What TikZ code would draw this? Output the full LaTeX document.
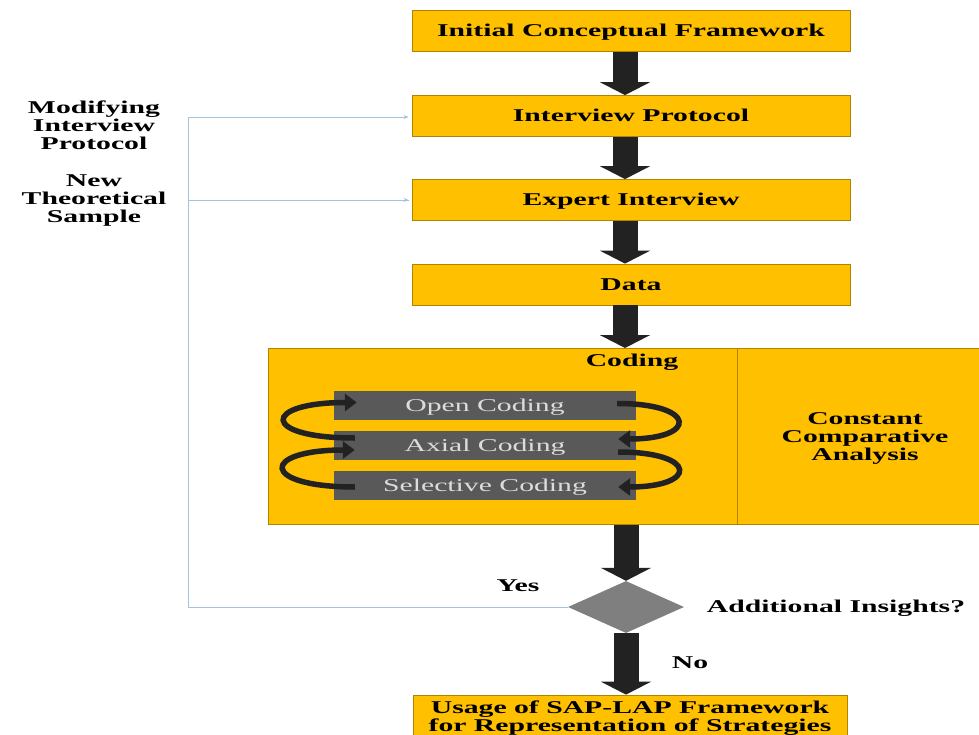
\documentclass[tikz,border=0pt]{standalone}
\usepackage{fontspec}
\setmainfont{Liberation Serif}[FakeStretch=1.65]
\usetikzlibrary{arrows.meta,shapes.geometric}
\definecolor{gold}{HTML}{FFC000}
\definecolor{goldline}{HTML}{B08400}
\definecolor{bar}{HTML}{595959}
\definecolor{bartext}{HTML}{DCDCDC}
\definecolor{dkarrow}{HTML}{222222}
\definecolor{fbline}{HTML}{A4C2DC}
\definecolor{diam}{HTML}{7F7F7F}
\begin{document}
\begin{tikzpicture}[x=1pt,y=-1pt,
  every node/.style={font=\fontsize{18}{18}\selectfont\bfseries, inner sep=0pt},
  fbox/.style={draw=goldline, line width=0.8pt, fill=gold, minimum width=438pt, minimum height=41pt,
    text height=12pt, text depth=0pt},
  panel/.style={draw=goldline, line width=0.8pt, fill=gold, anchor=north west},
  barbox/.style={fill=bar, minimum width=302pt, minimum height=29pt, text=bartext,
    text height=12pt, text depth=0pt, font=\fontsize{18}{18}\selectfont\mdseries},
  lbl/.style={align=center},
  blockarrow/.style={draw=dkarrow, line width=25pt, -{Triangle[width=50pt,length=13pt]}},
  loopar/.style={draw=dkarrow, line width=5.5pt, -{Triangle[width=17pt,length=12pt]}},
  fb/.style={draw=fbline, line width=0.9pt, -{Stealth[length=5pt,width=4pt]}}
]
\useasboundingbox (0,0) rectangle (979,735);

% main column of steps
\node[fbox] (b1) at (631,31) {Initial Conceptual Framework};
\node[fbox] (b2) at (631,116) {Interview Protocol};
\node[fbox] (b3) at (631,200) {Expert Interview};
\node[fbox] (b4) at (631,284.5) {Data};

% coding panel and comparative analysis panel
\node[panel, minimum width=469pt, minimum height=176pt] (cod) at (268,348) {};
\node[panel, minimum width=243pt, minimum height=176pt] (cca) at (737,348) {};
\node (codt) at (632,362) {Coding};
\node[lbl] (ccat) at (865,438) {Constant\\Comparative\\Analysis};

\node[barbox] (oc) at (485,405.5) {Open Coding};
\node[barbox] (ac) at (485,445) {Axial Coding};
\node[barbox] (sc) at (485,485.5) {Selective Coding};

% iterative loops between coding stages
\draw[loopar] ([shift={(21,-7)}]ac.west) .. controls +(-95,0) and +(-95,0) .. ([shift={(23,-3)}]oc.west);
\draw[loopar] ([shift={(21,1.5)}]sc.west) .. controls +(-95,0) and +(-95,0) .. ([shift={(21,5)}]ac.west);
\draw[loopar] ([shift={(-19,-2)}]oc.east) .. controls +(80,0) and +(80,0) .. ([shift={(-18,-6)}]ac.east);
\draw[loopar] ([shift={(-18,7)}]ac.east) .. controls +(80,0) and +(80,0) .. ([shift={(-18,1.5)}]sc.east);

% decision and outcome
\node[diamond, fill=diam, minimum width=116pt, minimum height=52pt] (d) at (626,607) {};
\node (ai) at (836,608) {Additional Insights?};
\node (yes) at (518,586) {Yes};
\node (no) at (690,663) {No};
\node[fbox, minimum width=434pt, minimum height=46pt, align=center, text height=, text depth=] (fin) at (630,718)
  {Usage of SAP-LAP Framework\\for Representation of Strategies};

% block arrows down the column
\draw[blockarrow] ([xshift=-6pt]b1.south) -- ([xshift=-6pt]b2.north);
\draw[blockarrow] ([xshift=-6pt]b2.south) -- ([xshift=-6pt]b3.north);
\draw[blockarrow] ([xshift=-6pt]b3.south) -- ([xshift=-6pt]b4.north);
\draw[blockarrow] ([xshift=-6pt]b4.south) -- ([xshift=-6pt]b4.south |- cod.north);
\draw[blockarrow] (d.north |- cod.south) -- (d.north);
\draw[blockarrow] (d.south) -- (d.south |- fin.north);

% feedback loop labels and lines
\node[lbl] (mip) at (94,125) {Modifying\\Interview\\Protocol};
\node[lbl] (nts) at (94,201) {New\\Theoretical\\Sample};
\coordinate (fbtop) at (188,117);
\draw[fb] (d.west) -| (fbtop) -- ([xshift=-3pt]b2.west |- fbtop);
\draw[fb, -] (fbtop |- b3.west) -- ([xshift=-3pt]b3.west);
\draw[fb] ([xshift=-8pt]b3.west) -- ([xshift=-3pt]b3.west);
\end{tikzpicture}
\end{document}
